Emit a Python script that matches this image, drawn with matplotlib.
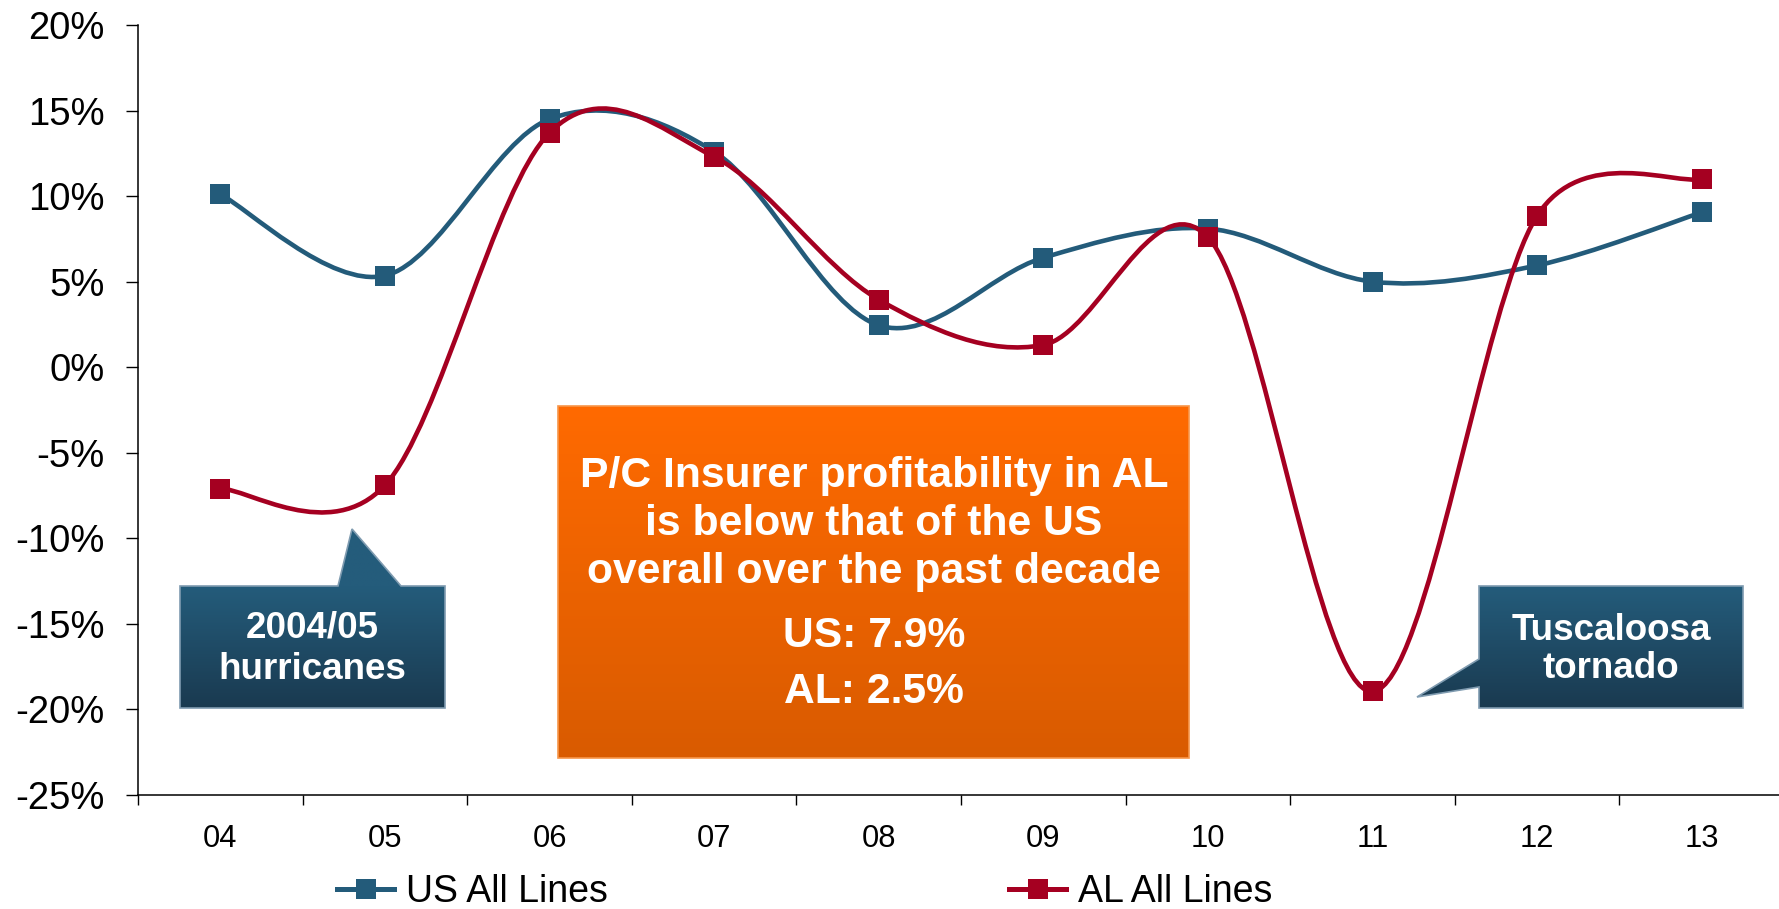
import numpy as np
import matplotlib
matplotlib.use("Agg")
import matplotlib.pyplot as plt
from matplotlib.path import Path
from matplotlib.patches import PathPatch, Polygon
from matplotlib.lines import Line2D
from matplotlib.colors import LinearSegmentedColormap

plt.rcParams["font.family"] = ["Liberation Sans", "DejaVu Sans"]

# underwriting profitability by year (%)
years = ["04", "05", "06", "07", "08", "09", "10", "11", "12", "13"]
us_all = [10.1, 5.35, 14.5, 12.6, 2.45, 6.4, 8.1, 5.0, 5.95, 9.05]
al_all = [-7.1, -6.9, 13.7, 12.3, 3.95, 1.3, 7.6, -18.95, 8.85, 11.0]
yticks = [-25, -20, -15, -10, -5, 0, 5, 10, 15, 20]
ytick_labels = [f"{v}%" for v in yticks]

US_COLOR = "#235B7A"
AL_COLOR = "#A50021"
W, H = 1779, 909


def smooth_path(ax, xs, ys):
    # Excel-like smoothed line: bezier with chord-parallel tangents, computed in
    # screen space, arm length capped relative to the segment length
    pts = ax.transData.transform(np.column_stack([xs, ys]).astype(float))
    n = len(pts)
    verts, codes = [pts[0]], [Path.MOVETO]
    for i in range(n - 1):
        p0, p1 = pts[max(i - 1, 0)], pts[i]
        p2, p3 = pts[i + 1], pts[min(i + 2, n - 1)]
        seg = np.hypot(*(p2 - p1))
        a1 = (p2 - p0) / 6
        a2 = (p3 - p1) / 6
        for a in (a1, a2):
            la = np.hypot(*a)
            if la > 0.5 * seg:
                a *= 0.5 * seg / la
        verts += [p1 + a1, p2 - a2, p2]
        codes += [Path.CURVE4] * 3
    return Path(ax.transData.inverted().transform(np.array(verts)), codes)


fig = plt.figure(figsize=(W / 100, H / 100), dpi=100)
ax = fig.add_axes([138 / W, 1 - 795 / H, (1784 - 138) / W, (795 - 25) / H])

x = np.arange(len(years))
ax.set_xlim(-0.5, len(years) - 0.5)
ax.set_ylim(-25, 20)

for vals, col, z in [(us_all, US_COLOR, 3), (al_all, AL_COLOR, 5)]:
    ax.add_patch(PathPatch(smooth_path(ax, x, vals), fill=False, edgecolor=col, lw=3.3,
                           capstyle="round", joinstyle="round", zorder=z))
    ax.plot(x, vals, ls="none", marker="s", ms=13.8, mew=0, color=col, zorder=z + 1)

ax.set_xlim(-0.5, len(years) - 0.5)
ax.set_ylim(-25, 20)
ax.set_yticks(yticks)
ax.set_yticklabels(ytick_labels, fontsize=27.5)
ax.set_xticks(x)
ax.set_xticklabels(years, fontsize=22.2)
ax.set_xticks(np.arange(-0.5, len(years), 1), minor=True)
ax.tick_params(axis="x", which="major", length=0, pad=21)
ax.tick_params(axis="x", which="minor", length=7.5, width=1)
ax.tick_params(axis="y", length=9, width=1, pad=15)
for s in ["top", "right"]:
    ax.spines[s].set_visible(False)
for s in ["left", "bottom"]:
    ax.spines[s].set_linewidth(1.1)

# overlay in pixel coordinates for the text boxes
ov = fig.add_axes([0, 0, 1, 1], zorder=10)
ov.patch.set_visible(False)
ov.axis("off")


def gradient_shape(verts, top_col, bot_col, edge, y0, y1):
    poly = Polygon(verts, closed=True, facecolor="none", edgecolor=edge, lw=1.2, zorder=3)
    ov.add_patch(poly)
    xs = [v[0] for v in verts]
    ys = [v[1] for v in verts]
    ytop, ybot = min(ys), max(ys)
    rows = np.linspace(ytop, ybot, 200)
    t = np.clip((rows - y0) / (y1 - y0), 0, 1)[:, None]
    cmap = LinearSegmentedColormap.from_list("g", [top_col, bot_col])
    im = ov.imshow(t, cmap=cmap, vmin=0, vmax=1, aspect="auto", origin="upper",
                   extent=(min(xs), max(xs), ybot, ytop), zorder=2, interpolation="bilinear")
    im.set_clip_path(poly)


# orange summary box
gradient_shape([(558, 406), (1189, 406), (1189, 758), (558, 758)],
               "#FF6A00", "#D95B00", "#F7964A", 406, 758)
box_lines = [("P/C Insurer profitability in AL", 487),
             ("is below that of the US", 535),
             ("overall over the past decade", 583),
             ("US: 7.9%", 647),
             ("AL: 2.5%", 703)]
for txt, yb in box_lines:
    ov.text(874, yb, txt, ha="center", va="baseline", color="white",
            fontsize=30.7, fontweight="bold", zorder=5)

# callouts
gradient_shape([(180, 586), (338, 586), (352, 529), (401, 586), (445, 586),
                (445, 708), (180, 708)], "#245C7B", "#1A3A50", "#7F9BB0", 586, 708)
ov.text(312, 638, "2004/05", ha="center", va="baseline", color="white",
        fontsize=26.5, fontweight="bold", zorder=5)
ov.text(312, 679, "hurricanes", ha="center", va="baseline", color="white",
        fontsize=26.5, fontweight="bold", zorder=5)

gradient_shape([(1479, 586), (1743, 586), (1743, 708), (1479, 708), (1479, 687),
                (1417, 697), (1479, 659)], "#245C7B", "#1A3A50", "#7F9BB0", 586, 708)
ov.text(1611, 640, "Tuscaloosa", ha="center", va="baseline", color="white",
        fontsize=26.5, fontweight="bold", zorder=5)
ov.text(1611, 678, "tornado", ha="center", va="baseline", color="white",
        fontsize=26.5, fontweight="bold", zorder=5)

ov.set_xlim(0, W)
ov.set_ylim(H, 0)

handles = [Line2D([], [], color=US_COLOR, lw=3.6, marker="s", ms=13.8, mew=0),
           Line2D([], [], color=AL_COLOR, lw=3.6, marker="s", ms=13.8, mew=0)]
fig.legend(handles, ["US All Lines", "AL All Lines"], loc="center left",
           bbox_to_anchor=(337 / W, 1 - 892 / H), ncol=2, frameon=False, fontsize=27,
           handlelength=1.52, handletextpad=0.32, columnspacing=10.7,
           borderpad=0, borderaxespad=0)

fig.savefig("out.png", dpi=100)
